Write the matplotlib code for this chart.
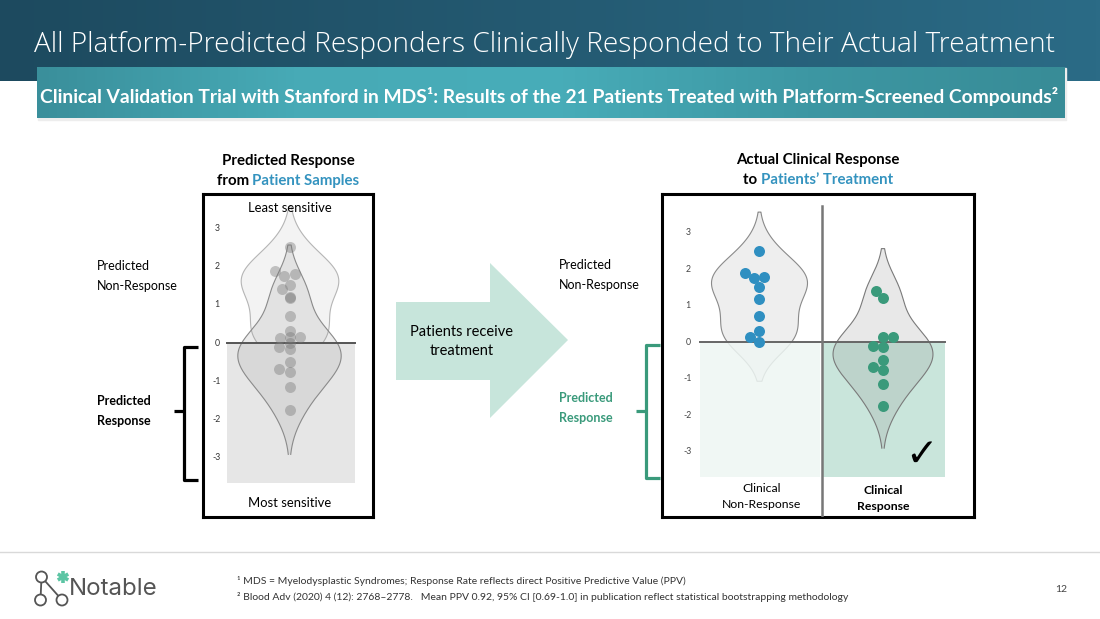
import numpy as np
import matplotlib
matplotlib.use("Agg")
import matplotlib.pyplot as plt
from matplotlib.patches import Rectangle, Polygon, Circle
from matplotlib.colors import LinearSegmentedColormap

# ---------------- data ----------------
non_response = [2.50, 1.88, 1.79, 1.76, 1.52, 1.17, 0.71, 0.31, 0.13, 0.01]
response = [1.40, 1.20, 0.15, 0.15, -0.10, -0.15, -0.49, -0.69, -0.77, -1.16, -1.75]
y_ticks = [3, 2, 1, 0, -1, -2, -3]
group_labels = [["Clinical", "Non-Response"], ["Clinical", "Response"]]

title = "All Platform-Predicted Responders Clinically Responded to Their Actual Treatment"
subtitle = "Clinical Validation Trial with Stanford in MDS\u00b9: Results of the 21 Patients Treated with Platform-Screened Compounds\u00b2"
footnote1 = "\u00b9 MDS = Myelodysplastic Syndromes; Response Rate reflects direct Positive Predictive Value (PPV)"
footnote2 = "\u00b2 Blood Adv (2020) 4 (12): 2768\u20132778.   Mean PPV 0.92, 95% CI [0.69-1.0] in publication reflect statistical bootstrapping methodology"
page_no = "12"

FONT = ["Lato", "DejaVu Sans"]
plt.rcParams["font.family"] = FONT

BLUE = "#2f8fc1"
GREEN = "#3a9a7b"
TXT_BLUE = "#3493bf"

W, H = 1100, 619
fig = plt.figure(figsize=(W / 100, H / 100), dpi=100)
bg = fig.add_axes([0, 0, 1, 1])
bg.set_xlim(0, W)
bg.set_ylim(H, 0)
bg.axis("off")
renderer = fig.canvas.get_renderer()

# ---------------- header bands ----------------
cm_dark = LinearSegmentedColormap.from_list("d", ["#1d4a5f", "#245a72", "#2b6b86"])
grad = np.linspace(0, 1, 256)[None, :]
bg.imshow(grad, extent=[0, W, 81, 0], cmap=cm_dark, aspect="auto", zorder=0)
cm_sub = LinearSegmentedColormap.from_list("s", ["#3a8f9b", "#47aab6", "#48adb9", "#3d97a3", "#388c97"])
bg.add_patch(Rectangle((38, 68), 1028, 52, color="#ededed", zorder=1))
bg.imshow(grad, extent=[37, 1065, 118, 67], cmap=cm_sub, aspect="auto", zorder=2)
bg.set_xlim(0, W)
bg.set_ylim(H, 0)
bg.text(545, 45, title, color="white", fontsize=20.2, ha="center", va="center",
        family=["Open Sans", "DejaVu Sans"], fontweight="light", zorder=3)
bg.text(549, 97, subtitle, color="white", fontsize=13.85, ha="center", va="center",
        fontweight="bold", zorder=3)


def rich(x, y, parts, size, weight="bold"):
    items = []
    total = 0
    for s, c in parts:
        t = bg.text(0, y, s, color=c, fontsize=size, fontweight=weight, ha="left", va="center")
        w = t.get_window_extent(renderer).width
        items.append((t, w))
        total += w
    cur = x - total / 2
    for t, w in items:
        t.set_x(cur)
        cur += w


bg.text(288, 161, "Predicted Response", fontsize=10.8, fontweight="bold", ha="center", va="center")
rich(288, 181, [("from ", "black"), ("Patient Samples", TXT_BLUE)], 10.8)
bg.text(818, 160, "Actual Clinical Response", fontsize=10.8, fontweight="bold", ha="center", va="center")
rich(818, 180, [("to ", "black"), ("Patients\u2019 Treatment", TXT_BLUE)], 10.8)

# side labels
bg.text(97, 266, "Predicted", fontsize=9, ha="left", va="center")
bg.text(97, 286, "Non-Response", fontsize=9, ha="left", va="center")
bg.text(97, 401, "Predicted", fontsize=9, fontweight="bold", ha="left", va="center")
bg.text(97, 421, "Response", fontsize=9, fontweight="bold", ha="left", va="center")
bg.text(559, 265, "Predicted", fontsize=9, ha="left", va="center")
bg.text(559, 285, "Non-Response", fontsize=9, ha="left", va="center")
bg.text(559, 398, "Predicted", fontsize=9, fontweight="bold", color=GREEN, ha="left", va="center")
bg.text(559, 418, "Response", fontsize=9, fontweight="bold", color=GREEN, ha="left", va="center")

# brackets
def bracket(x, top, bot, mid, nub, color):
    bg.plot([x + 14, x, x, x + 14], [top, top, bot, bot], color=color, lw=2.3,
            solid_capstyle="butt", solid_joinstyle="round")
    bg.plot([x - nub, x], [mid, mid], color=color, lw=2.3, solid_capstyle="butt")

bracket(184, 347, 480, 411, 10, "black")
bracket(646, 345, 478, 411, 10, GREEN)

# arrow
bg.add_patch(Polygon([[396, 302], [490, 302], [490, 263], [568, 340], [490, 418], [490, 380], [396, 380]],
                     closed=True, color="#c7e5db", lw=0, zorder=1))
bg.text(462, 332, "Patients receive", fontsize=10.5, ha="center", va="center", zorder=2)
bg.text(462, 351, "treatment", fontsize=10.5, ha="center", va="center", zorder=2)

# footer
bg.plot([0, W], [552, 552], color="#d9d9d9", lw=1)
bg.text(237, 581, footnote1, fontsize=7.5, ha="left", va="center", color="#333333")
bg.text(237, 597, footnote2, fontsize=7.5, ha="left", va="center", color="#333333")
bg.text(1061, 590, page_no, fontsize=7.5, ha="center", va="center", color="#444444")
# logo
lg = "#555555"
bg.plot([41.5, 40.5], [577, 600], color=lg, lw=1.3)
bg.plot([41.5, 62], [577, 600], color=lg, lw=1.3)
for cx, cy in [(41.5, 577), (40.5, 600), (62, 600)]:
    bg.add_patch(Circle((cx, cy), 5.5, facecolor="white", edgecolor=lg, lw=1.3, zorder=3))
for ang in [90, 30, 150]:
    a = np.deg2rad(ang)
    bg.plot([63 - 6 * np.cos(a), 63 + 6 * np.cos(a)], [577 - 6 * np.sin(a), 577 + 6 * np.sin(a)],
            color="#5cc5a4", lw=2.6, solid_capstyle="butt")
bg.text(69, 589, "Notable", fontsize=17.3, ha="left", va="center", color=lg,
        family=["Inter", "DejaVu Sans"])


# ---------------- helpers ----------------
def kde_curve(vals, cut=2, n=300):
    v = np.asarray(vals, float)
    bw = v.std(ddof=1) * len(v) ** (-1 / 5)
    ys = np.linspace(v.min() - cut * bw, v.max() + cut * bw, n)
    dens = np.exp(-0.5 * ((ys[:, None] - v[None, :]) / bw) ** 2).sum(1)
    return ys, dens / dens.max()


def swarm(vals, px_per_unit, diam):
    order = np.argsort(vals, kind="stable")
    placed = []
    offs = np.zeros(len(vals))
    steps = np.arange(0.1, 60, 0.1)
    cands = np.concatenate([[0], np.ravel(np.column_stack([-steps, steps]))])
    for i in order:
        yp = vals[i] * px_per_unit
        for c in cands:
            if all((c - ox) ** 2 + (yp - oy) ** 2 >= diam ** 2 - 1e-6 for ox, oy in placed):
                offs[i] = c
                placed.append((c, yp))
                break
    return offs


def frame(ax):
    ax.set_xticks([])
    ax.set_yticks([])
    for s in ax.spines.values():
        s.set_linewidth(2.2)
        s.set_color("black")
    ax.patch.set_alpha(0)


nr = np.array(non_response)
rr = np.array(response)
SWARM_D = 10.0  # px spacing
DOT_S = (11.0 * 0.72) ** 2
nr_off = swarm(nr, 36.5, SWARM_D)
rr_off = swarm(rr, 36.5, SWARM_D)

# ---------------- left panel ----------------
L_PX, L_SC, L_X0 = 100.0, 38.3, 289.5
axL = fig.add_axes([203 / W, 1 - 517 / H, 170 / W, 323 / H])
axL.set_xlim((203 - L_X0) / L_PX, (373 - L_X0) / L_PX)
axL.set_ylim((343 - 517) / L_SC, (343 - 194) / L_SC)
frame(axL)

ys, d = kde_curve(nr)
axL.fill_betweenx(ys, -0.488 * d, 0.488 * d, facecolor="#f3f3f3", edgecolor="#b5b5b5", lw=0.8, zorder=1)
axL.add_patch(Rectangle((-0.625, -3.66), 1.28, 3.66, facecolor="#e6e6e6", lw=0, zorder=2))
ys, d = kde_curve(rr)
axL.fill_betweenx(ys, -0.517 * d, 0.517 * d, facecolor="#9a9a9a", alpha=0.18, edgecolor="none", zorder=3)
axL.plot(np.r_[-0.517 * d, 0.517 * d[::-1]], np.r_[ys, ys[::-1]], color="#8a8a8a", lw=0.8, zorder=3)
axL.plot([-0.625, 0.655], [0, 0], color="#555555", lw=1.4, zorder=4)
allv = np.r_[nr, rr]
alloff = np.r_[nr_off, rr_off] * (L_SC / 36.5) / L_PX
axL.scatter(alloff, allv, s=DOT_S, color="#7a7a7a", alpha=0.42, lw=0, zorder=5)
for t in y_ticks:
    axL.text((217 - L_X0) / L_PX, t, str(t), fontsize=6.3, ha="center", va="center", color="#333333")
axL.text(0, (343 - 208) / L_SC, "Least sensitive", fontsize=9.4, ha="center", va="center")
axL.text(0, (343 - 503) / L_SC, "Most sensitive", fontsize=9.4, ha="center", va="center")

# ---------------- right panel ----------------
R_PX, R_SC, R_X0 = 124.0, 36.5, 759.0
axR = fig.add_axes([662 / W, 1 - 517 / H, 312 / W, 323 / H])
axR.set_xlim((662 - R_X0) / R_PX, (974 - R_X0) / R_PX)
axR.set_ylim((342 - 517) / R_SC, (342 - 194) / R_SC)
frame(axR)

ys, d = kde_curve(nr)
axR.fill_betweenx(ys, -0.387 * d, 0.387 * d, facecolor="#eeeeee", edgecolor="#8a8a8a", lw=0.8, zorder=1)
axR.add_patch(Rectangle((-0.476, -3.7), 0.968, 3.7, facecolor="#eef6f3", alpha=0.85, lw=0, zorder=2))
axR.add_patch(Rectangle((0.508, -3.7), 0.992, 3.7, facecolor="#c9e5db", lw=0, zorder=2))
ys, d = kde_curve(rr)
axR.fill_betweenx(ys, 1 - 0.403 * d, 1 + 0.403 * d, facecolor="#8f8f8f", alpha=0.2, edgecolor="none", zorder=3)
axR.plot(np.r_[1 - 0.403 * d, 1 + 0.403 * d[::-1]], np.r_[ys, ys[::-1]], color="#7a7a7a", lw=0.8, zorder=3)
axR.plot([-0.476, 1.5], [0, 0], color="#666666", lw=1.4, zorder=4)
axR.plot([0.508, 0.508], [(342 - 517) / R_SC, (342 - 206) / R_SC], color="#777777", lw=1.8, zorder=4)
axR.scatter(nr_off / R_PX, nr, s=DOT_S, color=BLUE, lw=0, zorder=5)
axR.scatter(1 + rr_off / R_PX, rr, s=DOT_S, color=GREEN, lw=0, zorder=5)
for t in y_ticks:
    axR.text((688 - R_X0) / R_PX, t, str(t), fontsize=6.3, ha="center", va="center", color="#444444")
ylab1, ylab2 = (342 - 489) / R_SC, (342 - 505) / R_SC
axR.text(0.02, ylab1, group_labels[0][0], fontsize=8.8, ha="center", va="center")
axR.text(0.02, ylab2, group_labels[0][1], fontsize=8.8, ha="center", va="center")
axR.text(1.0, (342 - 490) / R_SC, group_labels[1][0], fontsize=8.8, fontweight="bold", ha="center", va="center")
axR.text(1.0, (342 - 507) / R_SC, group_labels[1][1], fontsize=8.8, fontweight="bold", ha="center", va="center")
axR.text((921 - R_X0) / R_PX, (342 - 455) / R_SC, "\u2713", fontsize=28, ha="center", va="center",
         family=["DejaVu Sans"], fontweight="bold", zorder=6)

fig.savefig("out.png", dpi=100)
